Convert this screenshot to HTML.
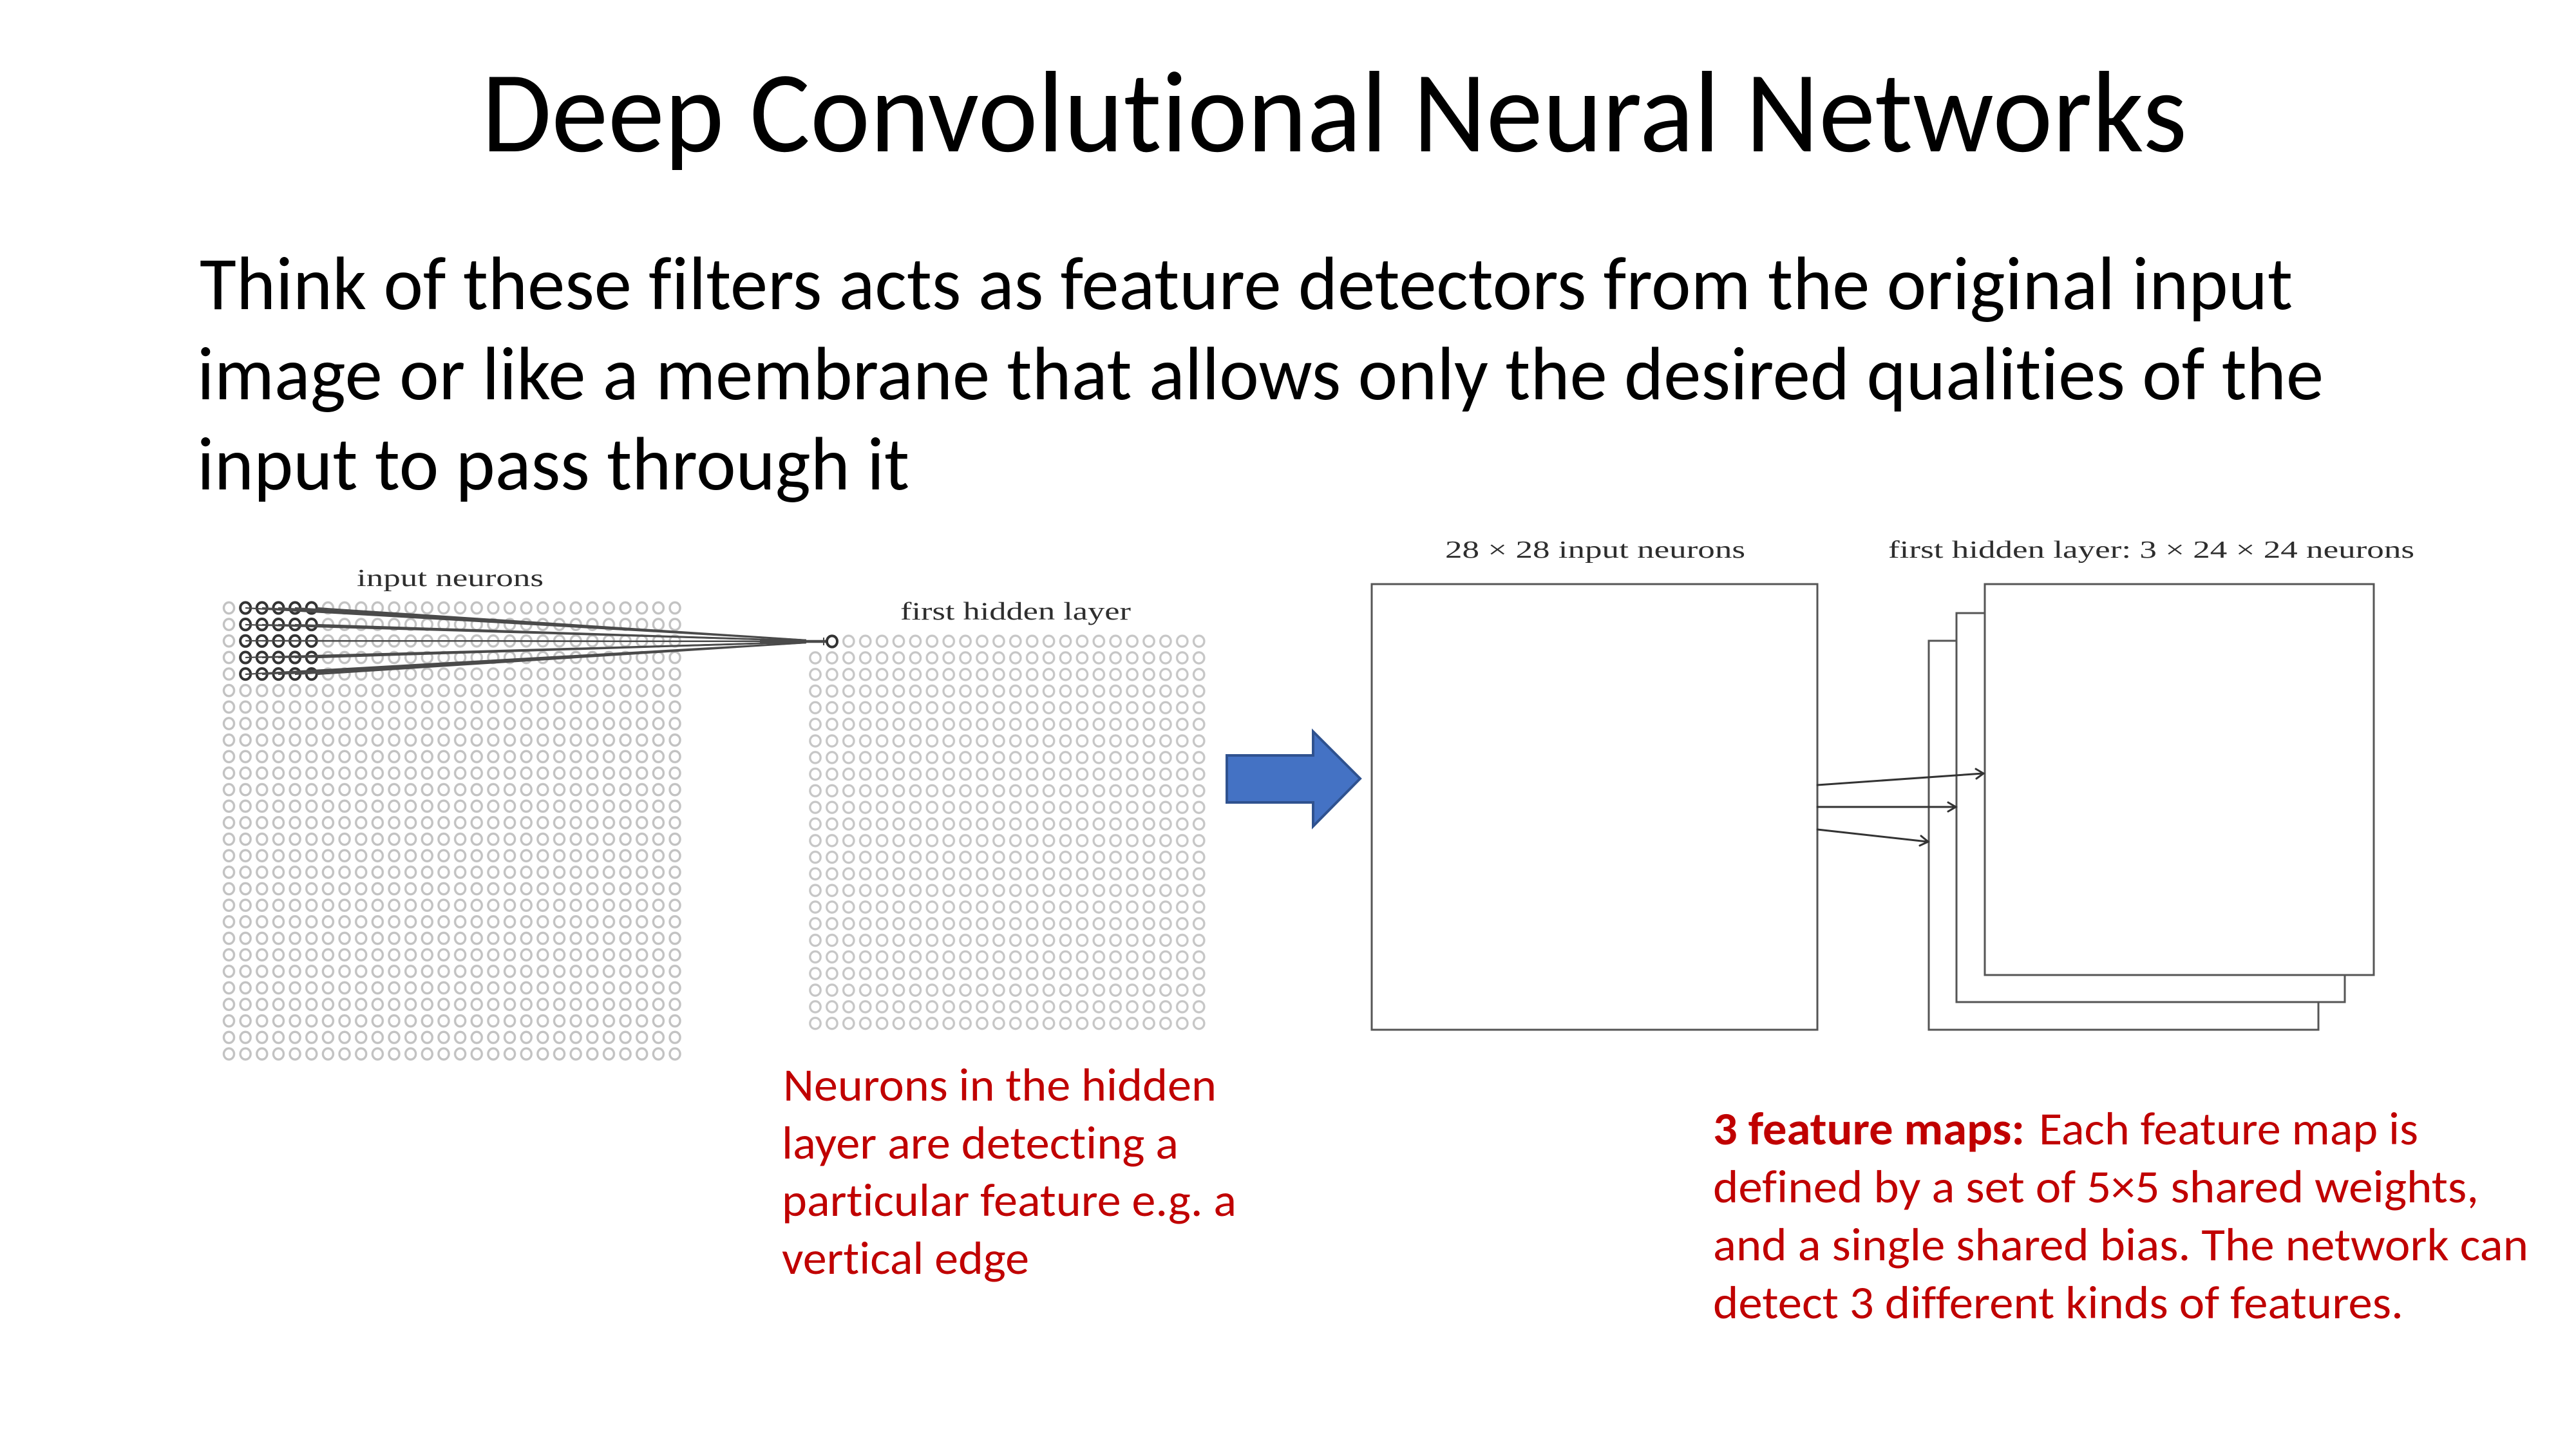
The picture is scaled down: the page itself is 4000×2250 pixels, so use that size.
<!DOCTYPE html>
<html><head><meta charset="utf-8"><style>
html,body{margin:0;padding:0;background:#fff;}
svg{display:block;}
text{font-variant-ligatures:none;font-feature-settings:"liga" 0,"clig" 0,"dlig" 0;}
.cal{font-family:"Carlito","Liberation Sans",sans-serif;}
.tex{font-family:"Liberation Serif",serif;fill:#2e2e2e;}
</style></head><body>
<svg width="4000" height="2250" viewBox="0 0 4000 2250" xmlns="http://www.w3.org/2000/svg">
<defs>
<pattern id="pin" patternUnits="userSpaceOnUse" x="342.675" y="931.175" width="25.65" height="25.65">
<ellipse cx="12.825" cy="12.825" rx="8" ry="8.6" fill="none" stroke="#c2c2c2" stroke-width="3.4"/>
</pattern>
<pattern id="phid" patternUnits="userSpaceOnUse" x="1253.05" y="982.8" width="25.9" height="25.8">
<ellipse cx="12.95" cy="12.9" rx="8.2" ry="8.6" fill="none" stroke="#c6c6c6" stroke-width="3.3"/>
</pattern>
</defs>
<rect width="4000" height="2250" fill="#fff"/>

<!-- Title -->
<text class="cal" x="748" y="235" font-size="180" fill="#000" textLength="2648" lengthAdjust="spacingAndGlyphs">Deep Convolutional Neural Networks</text>

<!-- Body -->
<g class="cal" font-size="117" fill="#000">
<text x="310" y="480" textLength="3250" lengthAdjust="spacingAndGlyphs">Think of these filters acts as feature detectors from the original input</text>
<text x="306" y="620" textLength="3302" lengthAdjust="spacingAndGlyphs">image or like a membrane that allows only the desired qualities of the</text>
<text x="306" y="760" textLength="1106" lengthAdjust="spacingAndGlyphs">input to pass through it</text>
</g>

<!-- Input grid -->
<text class="tex" x="554" y="910" font-size="38" textLength="290" lengthAdjust="spacingAndGlyphs">input neurons</text>
<rect x="342.675" y="931.175" width="718.2" height="718.2" fill="url(#pin)"/>
<g fill="#fff" stroke="#333" stroke-width="4">
<ellipse cx="381.15" cy="944" rx="8" ry="8.6"/><ellipse cx="406.8" cy="944" rx="8" ry="8.6"/><ellipse cx="432.45" cy="944" rx="8" ry="8.6"/><ellipse cx="458.1" cy="944" rx="8" ry="8.6"/><ellipse cx="483.75" cy="944" rx="8" ry="8.6"/>
<ellipse cx="381.15" cy="969.65" rx="8" ry="8.6"/><ellipse cx="406.8" cy="969.65" rx="8" ry="8.6"/><ellipse cx="432.45" cy="969.65" rx="8" ry="8.6"/><ellipse cx="458.1" cy="969.65" rx="8" ry="8.6"/><ellipse cx="483.75" cy="969.65" rx="8" ry="8.6"/>
<ellipse cx="381.15" cy="995.3" rx="8" ry="8.6"/><ellipse cx="406.8" cy="995.3" rx="8" ry="8.6"/><ellipse cx="432.45" cy="995.3" rx="8" ry="8.6"/><ellipse cx="458.1" cy="995.3" rx="8" ry="8.6"/><ellipse cx="483.75" cy="995.3" rx="8" ry="8.6"/>
<ellipse cx="381.15" cy="1020.95" rx="8" ry="8.6"/><ellipse cx="406.8" cy="1020.95" rx="8" ry="8.6"/><ellipse cx="432.45" cy="1020.95" rx="8" ry="8.6"/><ellipse cx="458.1" cy="1020.95" rx="8" ry="8.6"/><ellipse cx="483.75" cy="1020.95" rx="8" ry="8.6"/>
<ellipse cx="381.15" cy="1046.6" rx="8" ry="8.6"/><ellipse cx="406.8" cy="1046.6" rx="8" ry="8.6"/><ellipse cx="432.45" cy="1046.6" rx="8" ry="8.6"/><ellipse cx="458.1" cy="1046.6" rx="8" ry="8.6"/><ellipse cx="483.75" cy="1046.6" rx="8" ry="8.6"/>
</g>
<g stroke="#4a4a4a" stroke-width="2.2" fill="none">
<line x1="381" y1="944" x2="1284" y2="996"/><line x1="407" y1="944" x2="1284" y2="996"/><line x1="432" y1="944" x2="1284" y2="996"/><line x1="458" y1="944" x2="1284" y2="996"/><line x1="492" y1="944" x2="1284" y2="996"/>
<line x1="381" y1="970" x2="1284" y2="996"/><line x1="407" y1="970" x2="1284" y2="996"/><line x1="432" y1="970" x2="1284" y2="996"/><line x1="458" y1="970" x2="1284" y2="996"/><line x1="492" y1="970" x2="1284" y2="996"/>
<line x1="381" y1="995" x2="1284" y2="996"/><line x1="407" y1="995" x2="1284" y2="996"/><line x1="432" y1="995" x2="1284" y2="996"/><line x1="458" y1="995" x2="1284" y2="996"/><line x1="492" y1="995" x2="1284" y2="996"/>
<line x1="381" y1="1021" x2="1284" y2="996"/><line x1="407" y1="1021" x2="1284" y2="996"/><line x1="432" y1="1021" x2="1284" y2="996"/><line x1="458" y1="1021" x2="1284" y2="996"/><line x1="492" y1="1021" x2="1284" y2="996"/>
<line x1="381" y1="1047" x2="1284" y2="996"/><line x1="407" y1="1047" x2="1284" y2="996"/><line x1="432" y1="1047" x2="1284" y2="996"/><line x1="458" y1="1047" x2="1284" y2="996"/><line x1="492" y1="1047" x2="1284" y2="996"/>
</g>

<!-- Hidden grid -->
<text class="tex" x="1398" y="962" font-size="39" textLength="358" lengthAdjust="spacingAndGlyphs">first hidden layer</text>
<rect x="1253.05" y="982.8" width="621.6" height="619.2" fill="url(#phid)"/>
<rect x="1252" y="982" width="26" height="26" fill="#fff"/>
<line x1="1180" y1="996" x2="1284" y2="996" stroke="#4a4a4a" stroke-width="4.5"/>
<line x1="1279" y1="990" x2="1279" y2="1002" stroke="#4a4a4a" stroke-width="2"/>
<ellipse cx="1292" cy="996" rx="8" ry="8.6" fill="#fff" stroke="#333" stroke-width="4"/>

<!-- Blue arrow -->
<polygon points="1905,1173 2039,1173 2039,1136 2112,1209 2039,1283 2039,1246 1905,1246" fill="#4472C4" stroke="#2F528F" stroke-width="4" stroke-linejoin="miter"/>

<!-- Right diagram -->
<text class="tex" x="2244" y="866" font-size="38" textLength="466" lengthAdjust="spacingAndGlyphs">28 × 28 input neurons</text>
<text class="tex" x="2932" y="866" font-size="38" textLength="817" lengthAdjust="spacingAndGlyphs">first hidden layer: 3 × 24 × 24 neurons</text>
<g fill="#fff" stroke="#555" stroke-width="3">
<rect x="2130" y="907" width="692" height="692"/>
<rect x="2995" y="995" width="605" height="604"/>
<rect x="3038" y="952" width="603" height="604"/>
<rect x="3082" y="907" width="604" height="607"/>
</g>
<g stroke="#333" stroke-width="3" fill="none" stroke-linecap="round">
<line x1="2822" y1="1219" x2="3079" y2="1201"/>
<polyline points="3068,1194 3080,1201 3069,1209"/>
<line x1="2822" y1="1253" x2="3036" y2="1253"/>
<polyline points="3025,1246 3037,1253 3025,1260"/>
<line x1="2822" y1="1288" x2="2993" y2="1307"/>
<polyline points="2983,1298 2994,1307 2981,1313"/>
</g>

<!-- Red captions -->
<g class="cal" font-size="72" fill="#C00000">
<text x="1216" y="1709" textLength="673" lengthAdjust="spacingAndGlyphs">Neurons in the hidden</text>
<text x="1214" y="1799" textLength="616" lengthAdjust="spacingAndGlyphs">layer are detecting a</text>
<text x="1214" y="1888" textLength="706" lengthAdjust="spacingAndGlyphs">particular feature e.g. a</text>
<text x="1214" y="1978" textLength="384" lengthAdjust="spacingAndGlyphs">vertical edge</text>

<text x="2660" y="1777" font-weight="bold" textLength="484" lengthAdjust="spacingAndGlyphs">3 feature maps:</text>
<text x="3166" y="1777" textLength="589" lengthAdjust="spacingAndGlyphs">Each feature map is</text>
<text x="2660" y="1867" textLength="1189" lengthAdjust="spacingAndGlyphs">defined by a set of 5×5 shared weights,</text>
<text x="2660" y="1957" textLength="1266" lengthAdjust="spacingAndGlyphs">and a single shared bias. The network can</text>
<text x="2660" y="2047" textLength="1072" lengthAdjust="spacingAndGlyphs">detect 3 different kinds of features.</text>
</g>
</svg>
</body></html>
